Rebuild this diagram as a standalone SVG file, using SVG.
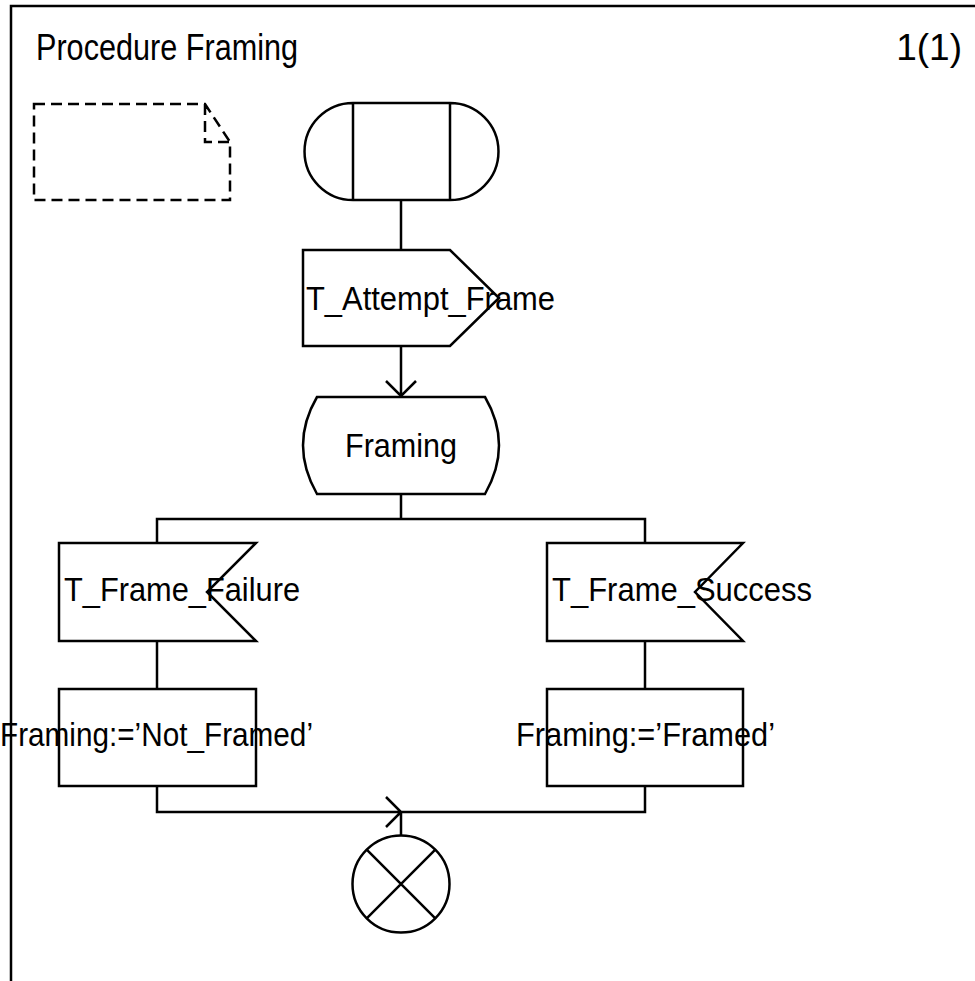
<svg xmlns="http://www.w3.org/2000/svg" width="975" height="981" viewBox="0 0 975 981">
<style>
.s{fill:none;stroke:#000;stroke-width:2.5}
.w{fill:#fff;stroke:#000;stroke-width:2.5}
.t{font-family:"Liberation Sans",Arial,sans-serif;font-size:33px;fill:#000}
.h{font-family:"Liberation Sans",Arial,sans-serif;font-size:37px;fill:#000}
</style>
<rect width="975" height="981" fill="#fff"/>
<g id="frame">
<path class="s" stroke-width="3" d="M11,981 V6 H975"/>
<text class="h" x="36" y="60" textLength="262" lengthAdjust="spacingAndGlyphs">Procedure Framing</text>
<text class="h" x="962" y="60" font-size="32" text-anchor="end">1(1)</text>
</g>
<g id="note">
<path class="s" stroke-dasharray="11,6" d="M34,104 H205 L230,142 V200 H34 Z M205,104 V142 H230"/>
</g>
<g id="connectors">
<path class="s" d="M401,200 V250"/>
<path class="s" d="M401,346 V396 M386,381 L401,396 L416,381"/>
<path class="s" d="M401,494 V519 M157,543 V519 H645 V543"/>
<path class="s" d="M157,641 V689"/>
<path class="s" d="M645,641 V689"/>
<path class="s" d="M157,786 V812 H645 V786 M386,797 L401,812 L386,827 M401,812 V836"/>
</g>
<g id="start">
<path class="w" d="M353,103 H450 A48.5,48.5 0 0 1 450,200 H353 A48.5,48.5 0 0 1 353,103 Z M353,103 V200 M450,103 V200"/>
</g>
<g id="attempt">
<polygon class="w" points="303,250 450,250 499,298 450,346 303,346"/>
<text class="t" x="306" y="310" textLength="249" lengthAdjust="spacingAndGlyphs">T_Attempt_Frame</text>
</g>
<g id="state">
<path class="w" d="M317,397 H485 Q513,445 485,494 H317 Q289,445 317,397 Z"/>
<text class="t" x="345" y="457" textLength="112" lengthAdjust="spacingAndGlyphs">Framing</text>
</g>
<g id="failure">
<polygon class="w" points="59,543 256,543 207,592 256,641 59,641"/>
<text class="t" x="64" y="601" textLength="236" lengthAdjust="spacingAndGlyphs">T_Frame_Failure</text>
</g>
<g id="success">
<polygon class="w" points="547,543 743,543 695,592 743,641 547,641"/>
<text class="t" x="552" y="601" textLength="260" lengthAdjust="spacingAndGlyphs">T_Frame_Success</text>
</g>
<g id="notframed">
<rect class="w" x="59" y="689" width="197" height="97"/>
<text class="t" x="0" y="746" textLength="313" lengthAdjust="spacingAndGlyphs">Framing:=’Not_Framed’</text>
</g>
<g id="framed">
<rect class="w" x="547" y="689" width="196" height="97"/>
<text class="t" x="516" y="746" textLength="259" lengthAdjust="spacingAndGlyphs">Framing:=’Framed’</text>
</g>
<g id="stop">
<circle class="w" cx="401" cy="884" r="48.5"/>
<path class="s" d="M366.7,849.7 L435.3,918.3 M435.3,849.7 L366.7,918.3"/>
</g>
</svg>
